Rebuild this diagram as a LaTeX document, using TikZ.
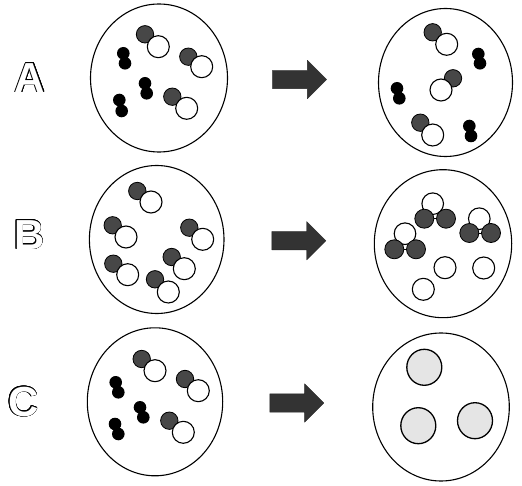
\documentclass[tikz,border=0pt]{standalone}
\usepackage{fontspec}
\setsansfont{Liberation Sans}
\usepackage{contour}
\usepackage{tikz}
\usetikzlibrary{shapes.arrows}
\contourlength{0.85pt}
\contournumber{16}
\tikzset{
    every picture/.style={line cap=round,line join=round},
    vessel/.style={draw=black,line width=1.1pt},
    darkatom/.style={draw=black,fill=black!72,line width=0.8pt},
    paleatom/.style={draw=black,fill=white,line width=1.1pt},
    solidatom/.style={fill=black},
    droplet/.style={draw=black,fill=black!10,line width=1.3pt},
    bondline/.style={draw=black,line width=0.9pt},
    blockarrow/.style={single arrow,fill=black!80,draw=black!85,line width=0.4pt,
      inner xsep=0pt,inner ysep=9pt,minimum height=54pt,
      single arrow head extend=10pt,single arrow tip angle=90},
    caselabel/.style={font=\sffamily\bfseries\fontsize{42}{42}\selectfont,
      text=white,inner sep=0pt}
}

\begin{document}
\begin{tikzpicture}[x=1pt,y=-1pt]
  \useasboundingbox (0,0) rectangle (522,486);
  % row letters
  \node[caselabel] (lblA) at (30,78) {\contour{black}{A}};
  \node[caselabel] (lblB) at (29.3,235) {\contour{black}{B}};
  \node[caselabel] (lblC) at (23.3,402) {\contour{black}{C}};
  % before / after containers
  \foreach \cx/\cy/\rx in {159/78/68.5,445.5/82.5/67,156.7/239.5/67.3,
                           443/243.7/68.7,155/401.8/67.7,441/407/68.3} {
    \draw[vessel] (\cx,\cy) ellipse[x radius=\rx pt,y radius=74pt];
  }
  % arrows between the two states
  \node[blockarrow] (arrA) at (295,79.5) {};
  \node[blockarrow] (arrB) at (294.3,240.7) {};
  \node[blockarrow] (arrC) at (292.2,403) {};
  % black two-atom molecules
  \foreach \ax/\ay/\bx/\by in {123.3/53.3/125/63.3,145/83.3/146.7/93.3,
      119.3/100/121.7/111,478.3/54/480/63.3,397/88.3/399.3/98.3,
      469.3/126/471/136,115.7/382.3/118.3/392.3,140/407.3/143.3/417.3,
      115/424/118.3/434} {
    \fill[solidatom] (\ax,\ay) circle[radius=6.3pt] (\bx,\by) circle[radius=6.3pt];
  }
  % grey + white molecules
  \foreach \gx/\gy/\wx/\wy in {145/34.3/158.3/46.7,188.3/56.7/201.7/66.7,
      172.3/96.7/186.7/108.3,432.7/32.3/446.7/44.3,453/78.3/441/90,
      420.3/122.7/432.7/135,137.3/191/151/202,112.7/225.3/126/237,
      189.3/227.7/202.7/239.3,113.3/263.7/127.7/274.7,171.7/257/184.3/268.7,
      155/279.3/168.3/292,141.7/359/155/370.7,185/379/198.3/390.7,
      169.3/420.7/183.3/432.3} {
    \draw[darkatom] (\gx,\gy) circle[radius=8.7pt];
    \draw[paleatom] (\wx,\wy) circle[radius=11pt];
  }
  % three-atom products
  \foreach \wx/\wy/\lx/\rx/\gy in {432.7/203.7/424.3/446/218.7,
      479.3/218.7/469.3/491/233,405/233.7/394.3/416/249.3} {
    \draw[paleatom] (\wx,\wy) circle[radius=10.8pt];
    \draw[bondline] (\lx,\gy) -- (\rx,\gy);
    \draw[darkatom] (\lx,\gy) circle[radius=9.5pt] (\rx,\gy) circle[radius=9.5pt];
  }
  % leftover white atoms
  \foreach \wx/\wy in {445/267.7,483.7/268,423.3/289.3} {
    \draw[paleatom] (\wx,\wy) circle[radius=11pt];
  }
  % merged droplets
  \foreach \dx/\dy in {424.3/367.3,418.3/425.7,475/420.7} {
    \draw[droplet] (\dx,\dy) ellipse[x radius=17.5pt,y radius=18pt];
  }
\end{tikzpicture}
\end{document}
